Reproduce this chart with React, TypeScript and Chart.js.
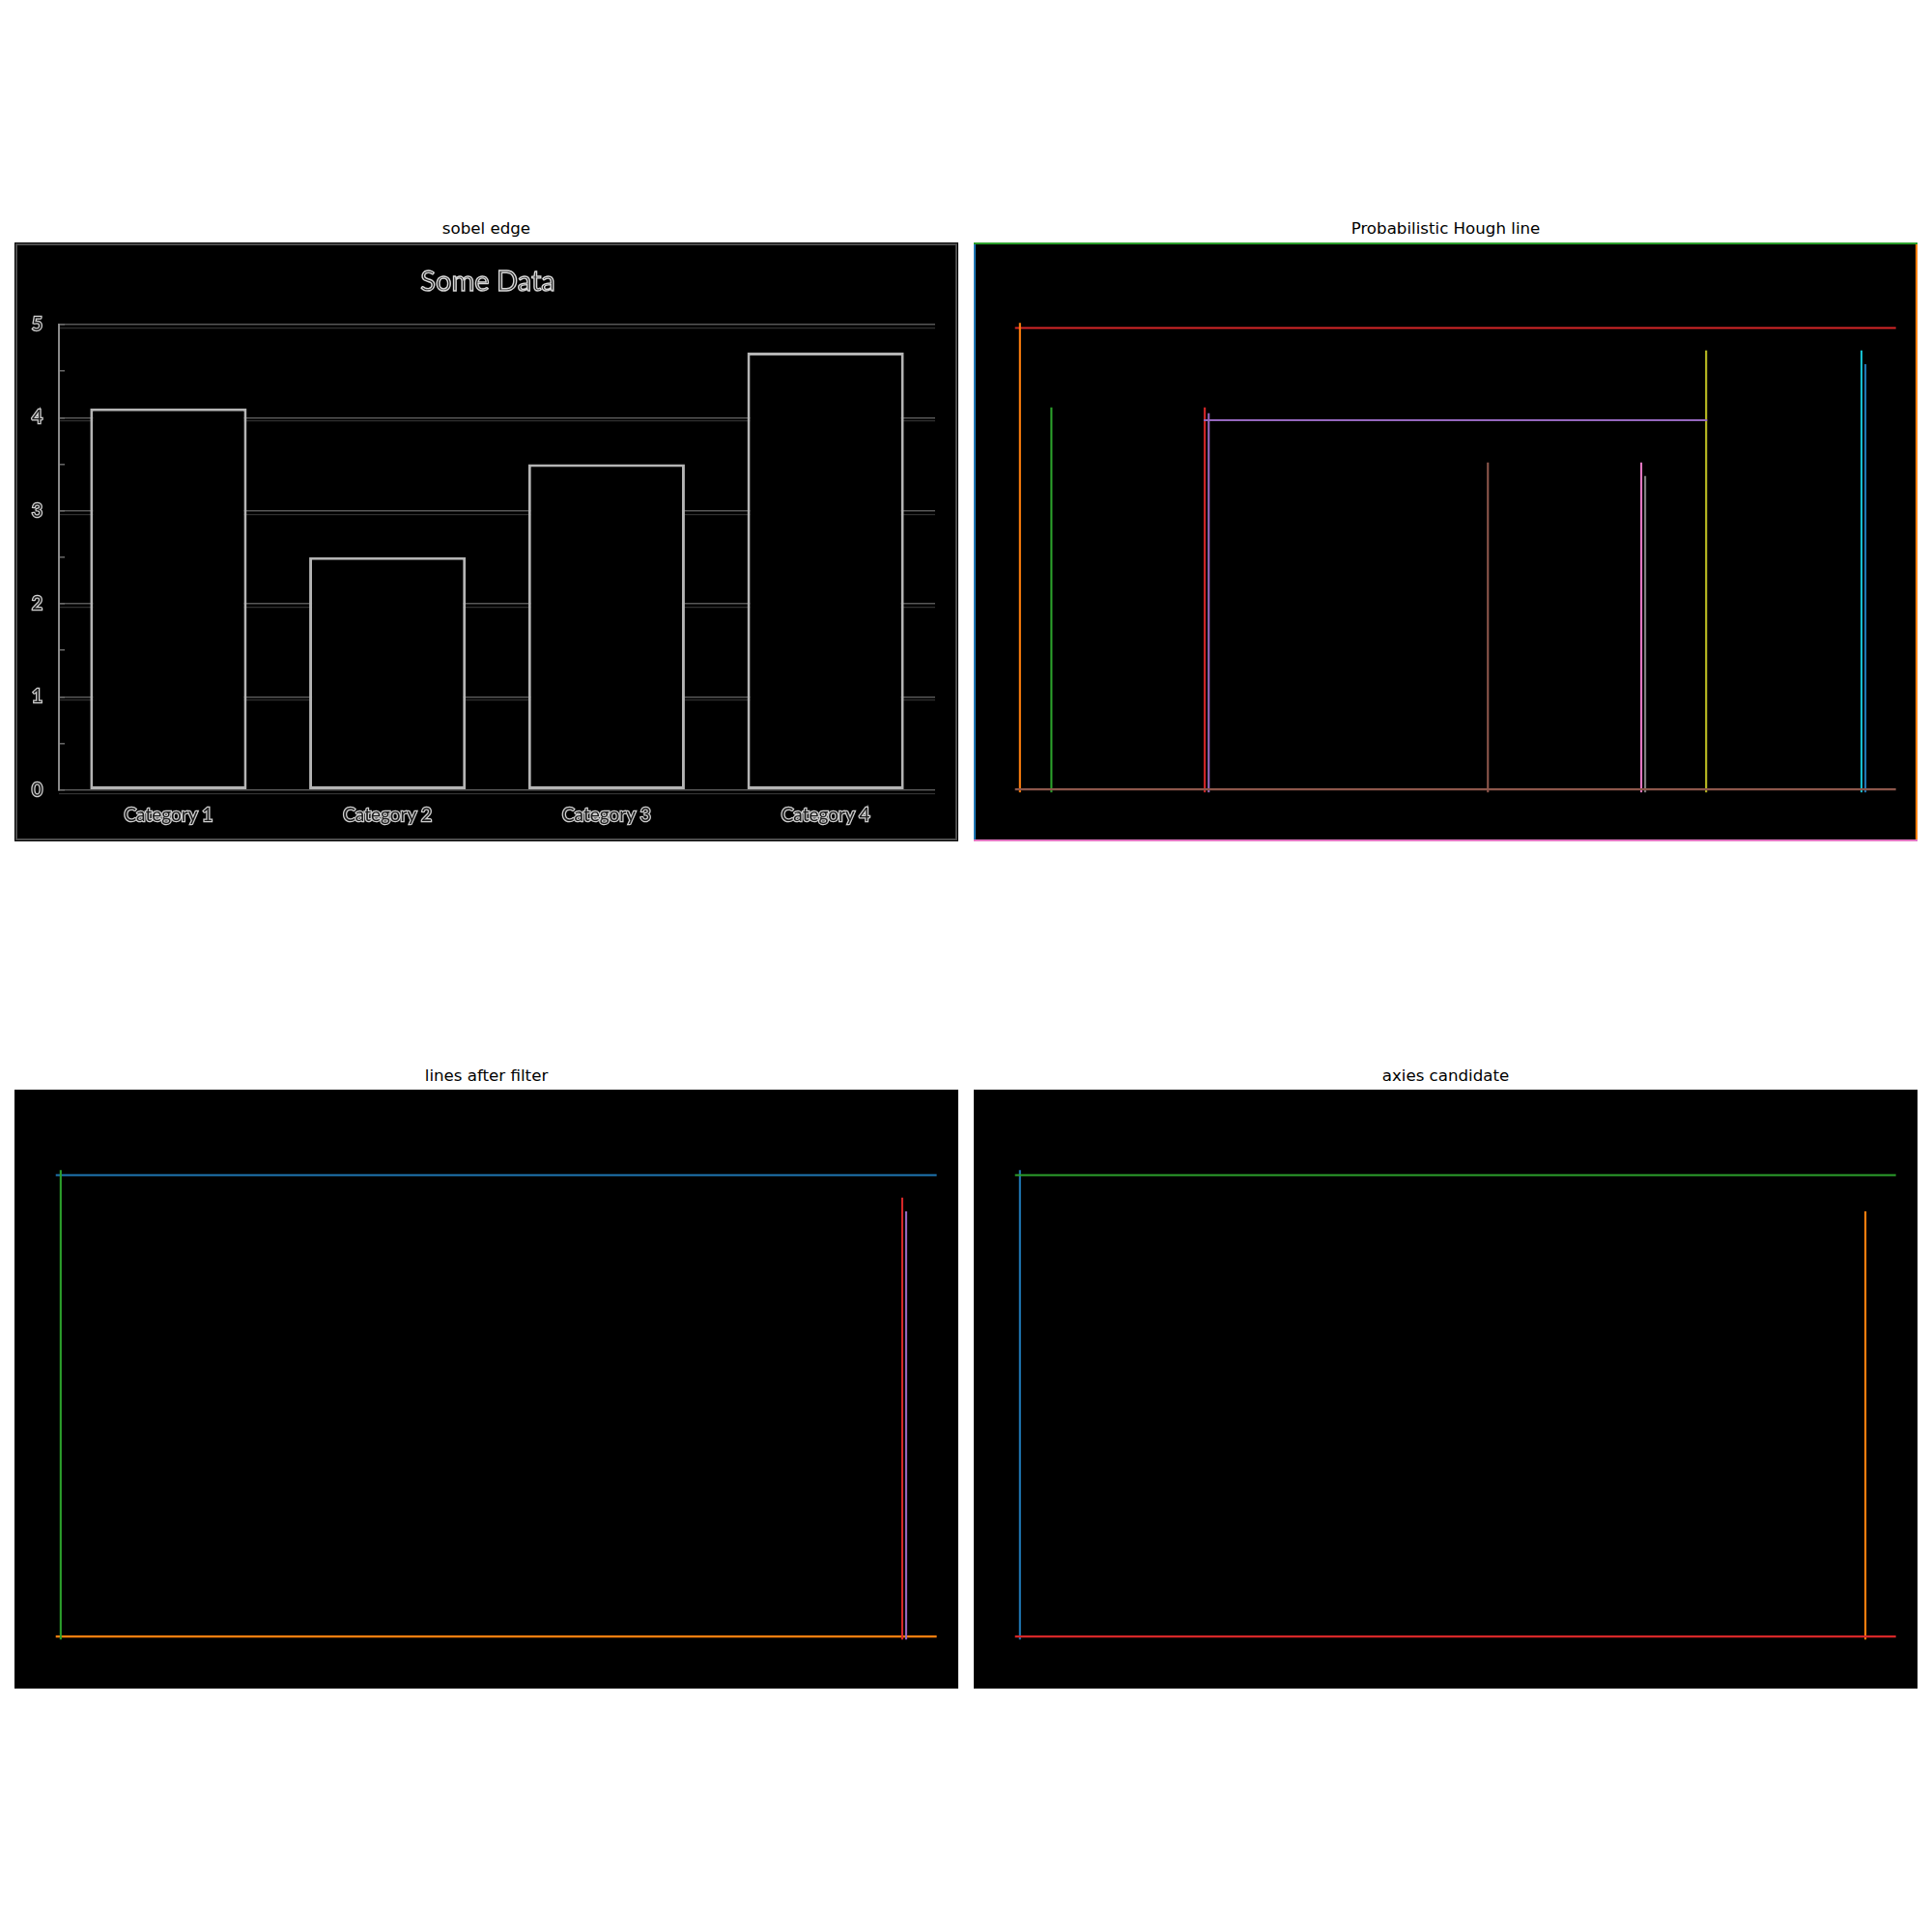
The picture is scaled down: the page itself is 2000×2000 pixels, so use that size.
import React, { useEffect, useRef } from 'react';
import { Chart, registerables } from 'chart.js';

Chart.register(...registerables);

// ---------- data ----------
const categories = ['Category 1', 'Category 2', 'Category 3', 'Category 4'];
const seriesValues = [4.1, 2.5, 3.5, 4.7];
const yTickValues = [0, 1, 2, 3, 4, 5];
const yMinorStep = 0.5;

const panelTitles = ['sobel edge', 'Probabilistic Hough line', 'lines after filter', 'axies candidate'];
const chartTitle = 'Some Data';

// source image size (pixels) that the line segments refer to
const imageWidth = 480;
const imageHeight = 305;

// Probabilistic Hough line segments (image pixel coords)
const houghX1 = [0, 479, 0, 21, 119, 261, 339, 341, 372, 451, 453, 23, 39, 117, 117, 21, 0];
const houghY1 = [0, 0, 0, 43, 87, 112, 112, 119, 55, 55, 62, 41, 84, 84, 90, 278, 304];
const houghX2 = [0, 479, 479, 468, 119, 261, 339, 341, 372, 451, 453, 23, 39, 117, 372, 468, 479];
const houghY2 = [304, 304, 0, 43, 279, 279, 279, 279, 279, 279, 279, 279, 279, 279, 90, 278, 304];

// lines after filter
const filterX1 = [21, 21, 23, 451, 453];
const filterY1 = [43, 278, 41, 55, 62];
const filterX2 = [468, 468, 23, 451, 453];
const filterY2 = [43, 278, 279, 279, 279];

// axis candidates
const candX1 = [23, 453, 21, 21];
const candY1 = [41, 62, 43, 278];
const candX2 = [23, 453, 468, 468];
const candY2 = [279, 279, 43, 278];

// matplotlib tab10 colour cycle
const tab10 = ['#1f77b4', '#ff7f0e', '#2ca02c', '#d62728', '#9467bd', '#8c564b', '#e377c2', '#7f7f7f', '#bcbd22', '#17becf'];

// ---------- layout ----------
const PW = 977;
const PH = 620;
const panels = [
  { left: 15, top: 251 },
  { left: 1008, top: 251 },
  { left: 15, top: 1128 },
  { left: 1008, top: 1128 },
];

function segmentConfig(x1: number[], y1: number[], x2: number[], y2: number[]): any {
  return {
    type: 'scatter',
    data: {
      datasets: x1.map((_, i) => ({
        data: [
          { x: x1[i], y: y1[i] },
          { x: x2[i], y: y2[i] },
        ],
        showLine: true,
        borderColor: tab10[i % 10],
        backgroundColor: tab10[i % 10],
        borderWidth: 2.1,
        borderCapStyle: 'square',
        pointRadius: 0,
        pointHoverRadius: 0,
        tension: 0,
        fill: false,
        order: -i,
      })),
    },
    options: {
      responsive: false,
      animation: false,
      events: [],
      layout: { padding: 0 },
      plugins: { legend: { display: false }, tooltip: { enabled: false }, title: { display: false } },
      scales: {
        x: { type: 'linear', min: -0.5, max: imageWidth - 0.5, display: false },
        y: { type: 'linear', min: -0.5, max: imageHeight - 0.5, reverse: true, display: false },
      },
    },
  };
}

const labelFont = { family: 'Lato', size: 19 };
const labelFill = '#1c1c1c';
const labelStroke = '#cfcfcf';

function barConfig(): any {
  const shift = 3.5 / 96.3;
  return {
    type: 'bar',
    data: {
      labels: categories,
      datasets: [
        {
          data: seriesValues,
          backgroundColor: '#000000',
          borderColor: '#b4b4b4',
          borderWidth: 3,
          borderSkipped: false,
          barPercentage: 0.715,
          categoryPercentage: 1,
          yAxisID: 'y',
        },
      ],
    },
    options: {
      responsive: false,
      animation: false,
      events: [],
      layout: { padding: { top: 85, right: 24, bottom: 0, left: 0 } },
      plugins: { legend: { display: false }, tooltip: { enabled: false }, title: { display: false } },
      scales: {
        x: {
          grid: { display: false, drawTicks: false },
          border: { display: false },
          ticks: {
            color: labelFill,
            textStrokeColor: labelStroke,
            textStrokeWidth: 2.5,
            font: labelFont,
            padding: 15,
            maxRotation: 0,
            autoSkip: false,
          },
          afterFit: (s: any) => {
            s.height = 53.3;
          },
        },
        y: {
          position: 'left',
          min: yTickValues[0],
          max: yTickValues[yTickValues.length - 1],
          ticks: {
            stepSize: yMinorStep,
            callback: (v: any) => (Number.isInteger(v) ? String(v) : ''),
            color: labelFill,
            textStrokeColor: labelStroke,
            textStrokeWidth: 2.5,
            font: labelFont,
            padding: 23,
          },
          grid: {
            color: (ctx: any) => (ctx.tick && Number.isInteger(ctx.tick.value) ? '#575757' : 'rgba(0,0,0,0)'),
            lineWidth: 1.6,
            drawTicks: true,
            tickLength: -6,
            tickColor: '#6a6a6a',
            tickWidth: 1.5,
          },
          border: { display: true, color: '#8a8a8a', width: 2 },
          afterFit: (s: any) => {
            s.width = 46;
          },
        },
        y2: {
          position: 'left',
          min: yTickValues[0] + shift,
          max: yTickValues[yTickValues.length - 1] + shift,
          afterBuildTicks: (s: any) => {
            s.ticks = yTickValues.map((v) => ({ value: v }));
          },
          ticks: { display: false },
          grid: { color: '#303030', lineWidth: 1.2, drawTicks: false },
          border: { display: false },
          afterFit: (s: any) => {
            s.width = 0;
          },
        },
      },
    },
  };
}

function ChartCanvas({ build }: { build: () => any }) {
  const ref = useRef<HTMLCanvasElement>(null);
  useEffect(() => {
    const chart = new Chart(ref.current as HTMLCanvasElement, build());
    return () => chart.destroy();
  }, []);
  return (
    <canvas
      ref={ref}
      width={PW}
      height={PH}
      style={{ position: 'absolute', left: 0, top: 0, width: PW, height: PH, display: 'block' }}
    />
  );
}

const builders = [
  barConfig,
  () => segmentConfig(houghX1, houghY1, houghX2, houghY2),
  () => segmentConfig(filterX1, filterY1, filterX2, filterY2),
  () => segmentConfig(candX1, candY1, candX2, candY2),
];

export default function App() {
  return (
    <div
      style={{
        position: 'absolute',
        left: 0,
        top: 0,
        width: 2000,
        height: 2000,
        background: '#ffffff',
        overflow: 'hidden',
      }}
    >
      {panels.map((p, i) => (
        <React.Fragment key={i}>
          <div
            style={{
              position: 'absolute',
              left: p.left,
              top: p.top - 22.4,
              width: PW,
              textAlign: 'center',
              fontFamily: '"DejaVu Sans", sans-serif',
              fontSize: 16.67,
              lineHeight: '16.67px',
              color: '#000',
              whiteSpace: 'nowrap',
            }}
          >
            {panelTitles[i]}
          </div>
          <div
            style={{
              position: 'absolute',
              left: p.left,
              top: p.top,
              width: PW,
              height: PH,
              background: '#000',
              overflow: 'hidden',
            }}
          >
            <ChartCanvas build={builders[i]} />
            {i === 0 && (
              <>
                <div
                  style={{
                    position: 'absolute',
                    left: 1,
                    top: 1,
                    width: PW - 2,
                    height: PH - 2,
                    boxSizing: 'border-box',
                    border: '2px solid #4c4c4c',
                    pointerEvents: 'none',
                  }}
                />
                <div
                  style={{
                    position: 'absolute',
                    left: 190,
                    top: 24,
                    width: 600,
                    textAlign: 'center',
                    fontFamily: 'Lato, sans-serif',
                    fontSize: 29,
                    lineHeight: '29px',
                    color: '#1a1a1a',
                    WebkitTextStroke: '1.4px #d9d9d9',
                    whiteSpace: 'nowrap',
                  }}
                >
                  {chartTitle}
                </div>
              </>
            )}
          </div>
        </React.Fragment>
      ))}
    </div>
  );
}
